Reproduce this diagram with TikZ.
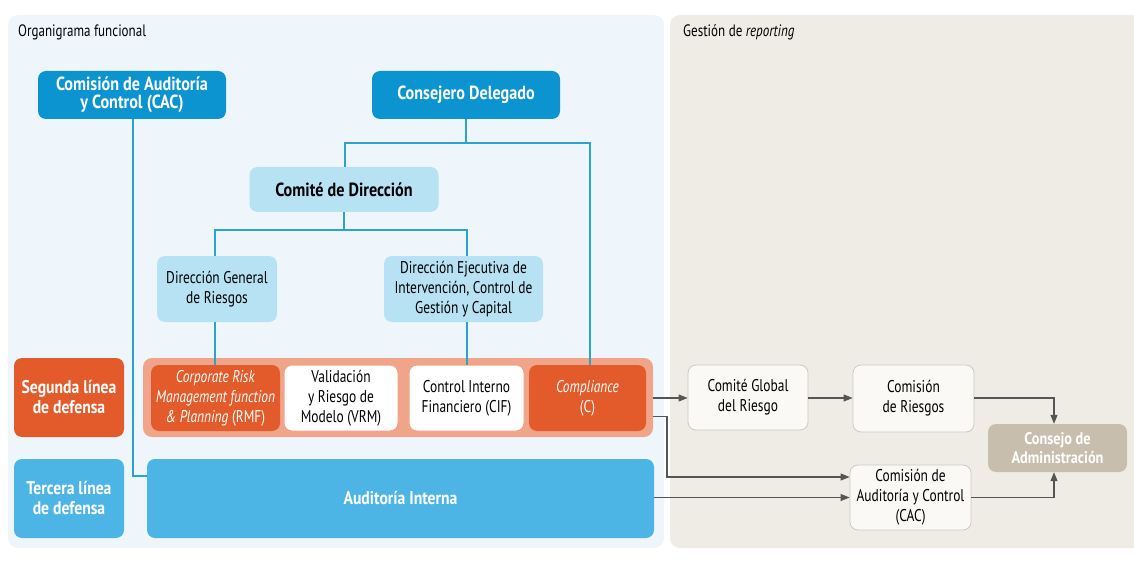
\documentclass[tikz,border=0pt]{standalone}
\usepackage{fontspec}
\setmainfont{PT Sans}[FakeStretch=0.79, BoldFeatures={FakeStretch=0.85}]
\usetikzlibrary{arrows.meta}
\definecolor{panelblue}{HTML}{EEF6FC}
\definecolor{panelbeige}{HTML}{EFECE6}
\definecolor{darkblue}{HTML}{0C94D1}
\definecolor{lightblue}{HTML}{B7E2F4}
\definecolor{linecol}{HTML}{2BA3CF}
\definecolor{orng}{HTML}{E35B2B}
\definecolor{salmon}{HTML}{F0A48A}
\definecolor{midblue}{HTML}{4DB5E5}
\definecolor{offwhite}{HTML}{FBF9F5}
\definecolor{offborder}{HTML}{CFC9BF}
\definecolor{consejo}{HTML}{C8BEAE}
\definecolor{arrgray}{HTML}{555555}
\tikzset{
  box/.style={rounded corners=8pt, align=center, inner sep=2pt, font=\fontsize{17}{20}\selectfont},
  bigbold/.style={font=\fontsize{19}{18.5}\selectfont\bfseries},
  midbold/.style={font=\fontsize{18.4}{20}\selectfont\bfseries},
  topbox/.style={box, fill=darkblue, text=white, bigbold},
  lbbox/.style={box, fill=lightblue, text=black},
  orbox/.style={box, fill=orng, text=white},
  whbox/.style={box, fill=white, draw=salmon, line width=1pt, text=black},
  repbox/.style={box, fill=offwhite, draw=offborder, line width=0.8pt, text=black},
  orgline/.style={draw=linecol, line width=1.2pt},
  arr/.style={draw=arrgray, line width=1.1pt, -{Triangle[length=9pt,width=7pt]}},
}
\begin{document}
\begin{tikzpicture}[x=1pt,y=-1pt]
\useasboundingbox (0,0) rectangle (1134,561);
\fill[white] (0,0) rectangle (1134,561);
% panels
\fill[panelblue, rounded corners=10pt] (8,15) rectangle (664,548);
\fill[panelbeige, rounded corners=10pt] (670,15) rectangle (1145,548);
\node[anchor=west, inner sep=0pt, font=\fontsize{16.5}{18}\selectfont] (t1) at (18,32) {Organigrama funcional};
\node[anchor=west, inner sep=0pt, font=\fontsize{16.5}{18}\selectfont] (t2) at (683,32) {Gestión de \textit{reporting}};

% top boxes
\node[topbox, minimum width=188pt, minimum height=48pt] (cac1) at (132,95) {Comisión de Auditoría\\y Control (CAC)};
\node[topbox, minimum width=188pt, minimum height=48pt] (cd) at (466,95) {Consejero Delegado};
\node[lbbox, bigbold, minimum width=189pt, minimum height=45pt] (cdir) at (344,189.5) {Comité de Dirección};
\node[lbbox, minimum width=120pt, minimum height=66pt] (dgr) at (217,289) {Dirección General\\de Riesgos};
\node[lbbox, minimum width=159pt, minimum height=66pt] (dei) at (463.5,289) {Dirección Ejecutiva de\\Intervención, Control de\\Gestión y Capital};

% second line
\node[orbox, midbold, minimum width=110pt, minimum height=79pt] (seg) at (69,397.5) {Segunda línea\\de defensa};
\node[box, fill=midblue, text=white, midbold, minimum width=110pt, minimum height=79pt] (ter) at (69,498.5) {Tercera línea\\de defensa};
\node[fill=salmon, rounded corners=9pt, minimum width=510pt, minimum height=79pt, inner sep=0pt] (cont) at (398,397.5) {};
\node[orbox, minimum width=129pt, minimum height=66pt, inner sep=1pt] (rmf) at (215.5,398) {\textit{Corporate Risk}\\\textit{Management function}\\\textit{\& Planning} (RMF)};
\node[whbox, minimum width=114pt, minimum height=66pt] (vrm) at (341,398) {Validación\\y Riesgo de\\Modelo (VRM)};
\node[whbox, minimum width=115pt, minimum height=66pt] (cif) at (466.5,398) {Control Interno\\Financiero (CIF)};
\node[orbox, minimum width=117pt, minimum height=66pt] (comp) at (587.5,398) {\textit{Compliance}\\(C)};
\node[box, fill=midblue, text=white, midbold, minimum width=507pt, minimum height=79pt] (ai) at (400.5,498.5) {Auditoría Interna};

% reporting
\node[repbox, minimum width=120pt, minimum height=65pt] (cgr) at (748,397.5) {Comité Global\\del Riesgo};
\node[repbox, minimum width=121pt, minimum height=67pt] (cr) at (913.5,398.5) {Comisión\\de Riesgos};
\node[box, fill=consejo, text=white, font=\fontsize{16.8}{19}\selectfont\bfseries, minimum width=139pt, minimum height=48pt] (ca) at (1057.5,448) {Consejo de\\Administración};
\node[repbox, minimum width=121pt, minimum height=65pt] (cac2) at (910.5,497.5) {Comisión de\\Auditoría y Control\\(CAC)};

% org lines
\coordinate (h1) at (466,143);
\draw[orgline] (cd.south) -- (h1);
\draw[orgline] (cdir.north -| 345,0) |- (h1) -| (comp.north -| 590,0);
\coordinate (h2) at (344,230);
\draw[orgline] (cdir.south) -- (h2);
\draw[orgline] (dgr.north -| 215,0) |- (h2) -| (dei.north -| 467,0);
\draw[orgline] (dgr.south -| 215,0) -- (rmf.north -| 215,0);
\draw[orgline] (dei.south -| 467,0) -- (cif.north -| 467,0);
\draw[orgline] (cac1.south -| 133,0) |- (ai.west |- 0,476);
\draw[draw=salmon, line width=1.2pt] (rmf.east |- 0,398) -- (vrm.west |- 0,398);

% reporting arrows
\draw[arr] (cont.east |- 0,398) -- (cgr.west |- 0,398);
\draw[arr] (cgr.east |- 0,398) -- (cr.west |- 0,398);
\draw[arr] (cont.east |- 0,416.5) -| (667,477) -- (cac2.west |- 0,477);
\draw[arr] (ai.east |- 0,497.5) -- (cac2.west |- 0,497.5);
\draw[arr] (cr.east |- 0,398) -| (ca.north -| 1054,0);
\draw[arr] (cac2.east |- 0,497.5) -| (ca.south -| 1054,0);
\end{tikzpicture}
\end{document}
